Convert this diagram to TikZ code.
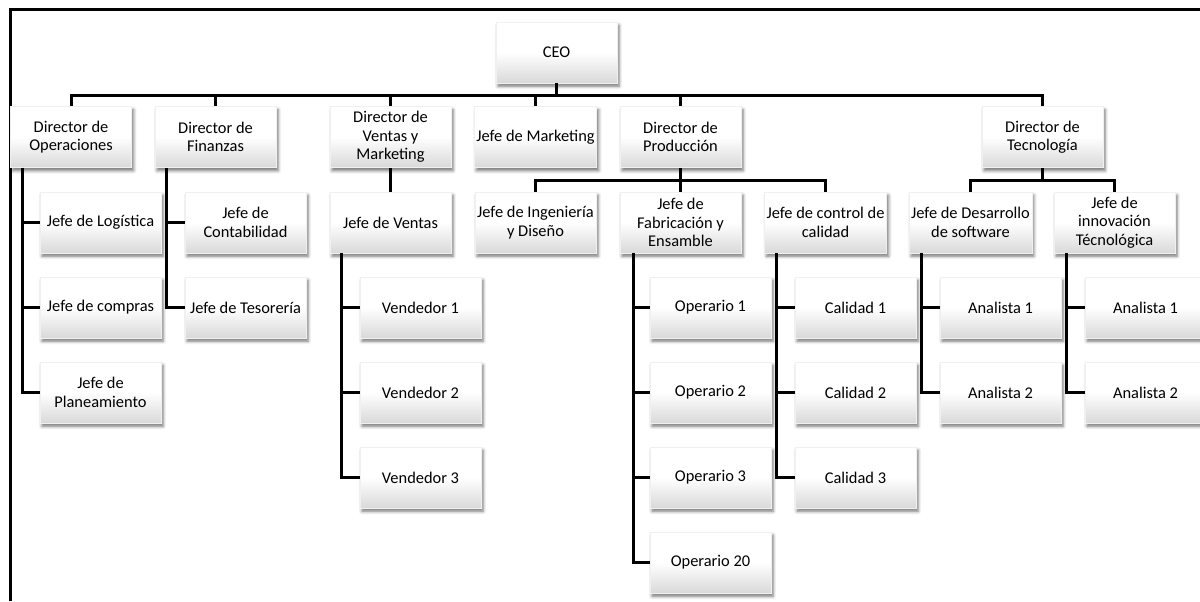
\documentclass[tikz,border=0pt]{standalone}
\usepackage{fontspec}
\setmainfont{Carlito}
\usetikzlibrary{shadows.blur}

\begin{document}
\begin{tikzpicture}[x=0.5pt,y=-0.5pt,
    cargo/.style={minimum width=60.5pt,minimum height=30.5pt,inner xsep=1pt,inner ysep=1pt,
      align=center,font=\fontsize{8.2}{9.2}\selectfont,
      top color=white,bottom color=black!15,middle color=white,draw=black!6,line width=0.3pt,
      blur shadow={shadow xshift=1pt,shadow yshift=-1.6pt,shadow blur radius=1.6pt,shadow opacity=55}},
    linea/.style={line width=1.5pt}]
    \useasboundingbox (0,0) rectangle (1200,601);
    % marco
    \draw[linea] (10,601) -- (10,9.5) -- (1200,9.5);

    \node[cargo] (ceo) at (556.5,52.5) {CEO};
    % directores
    \node[cargo] (dope) at (71,137) {Director de\\Operaciones};
    \node[cargo] (dfin) at (215.5,137) {Director de\\Finanzas};
    \node[cargo] (dven) at (390.5,137) {Director de\\Ventas y\\Marketing};
    \node[cargo] (jmkt) at (535.5,137) {Jefe de Marketing};
    \node[cargo] (dpro) at (680.5,137) {Director de\\Producción};
    \node[cargo] (dtec) at (1042.5,137) {Director de\\Tecnología};
    \foreach \d in {dope,dfin,dven,jmkt,dpro,dtec}
      \draw[linea] (ceo.south) -- ++(0,12) -| (\d.north);

    % jefes
    \node[cargo] (jlog) at (100.5,222.5) {Jefe de Logística};
    \node[cargo] (jcom) at (100.5,307.5) {Jefe de compras};
    \node[cargo] (jpla) at (100.5,392.5) {Jefe de\\Planeamiento};
    \foreach \h in {jlog,jcom,jpla}
      \draw[linea] ([xshift=6pt]dope.south west) |- (\h.west);

    \node[cargo] (jcon) at (245.5,222.5) {Jefe de\\Contabilidad};
    \node[cargo] (jtes) at (245.5,307.5) {Jefe de Tesorería};
    \foreach \h in {jcon,jtes}
      \draw[linea] ([xshift=6pt]dfin.south west) |- (\h.west);

    \node[cargo] (jven) at (390.5,222.5) {Jefe de Ventas};
    \draw[linea] (dven.south) -- (jven.north);

    \node[cargo] (jing) at (535.5,222.5) {Jefe de Ingeniería\\y Diseño};
    \node[cargo] (jfab) at (680.5,222.5) {Jefe de\\Fabricación y\\Ensamble};
    \node[cargo] (jcal) at (825.5,222.5) {Jefe de control de\\calidad};
    \foreach \j in {jing,jfab,jcal}
      \draw[linea] (dpro.south) -- ++(0,13) -| (\j.north);

    \node[cargo] (jdes) at (970.5,222.5) {Jefe de Desarrollo\\de software};
    \node[cargo] (jinn) at (1114.5,222.5) {Jefe de\\innovación\\Técnológica};
    \foreach \j in {jdes,jinn}
      \draw[linea] (dtec.south) -- ++(0,13) -| (\j.north);

    % personal
    \foreach \n/\y in {1/307.5,2/392.5,3/477.5} {
      \node[cargo] (ven\n) at (420.5,\y) {Vendedor \n};
      \draw[linea] ([xshift=6pt]jven.south west) |- (ven\n.west);
    }
    \foreach \n/\y in {1/307.5,2/392.5,3/477.5,20/562.5} {
      \node[cargo] (ope\n) at (710.5,\y) {Operario \n};
      \draw[linea] ([xshift=7pt]jfab.south west) |- (ope\n.west);
    }
    \foreach \n/\y in {1/307.5,2/392.5,3/477.5} {
      \node[cargo] (cal\n) at (855.5,\y) {Calidad \n};
      \draw[linea] ([xshift=6pt]jcal.south west) |- (cal\n.west);
    }
    \foreach \n/\y in {1/307.5,2/392.5} {
      \node[cargo] (anad\n) at (1000.5,\y) {Analista \n};
      \draw[linea] ([xshift=6.5pt]jdes.south west) |- (anad\n.west);
      \node[cargo] (anai\n) at (1145.5,\y) {Analista \n};
      \draw[linea] ([xshift=6.5pt]jinn.south west) |- (anai\n.west);
    }
\end{tikzpicture}
\end{document}
